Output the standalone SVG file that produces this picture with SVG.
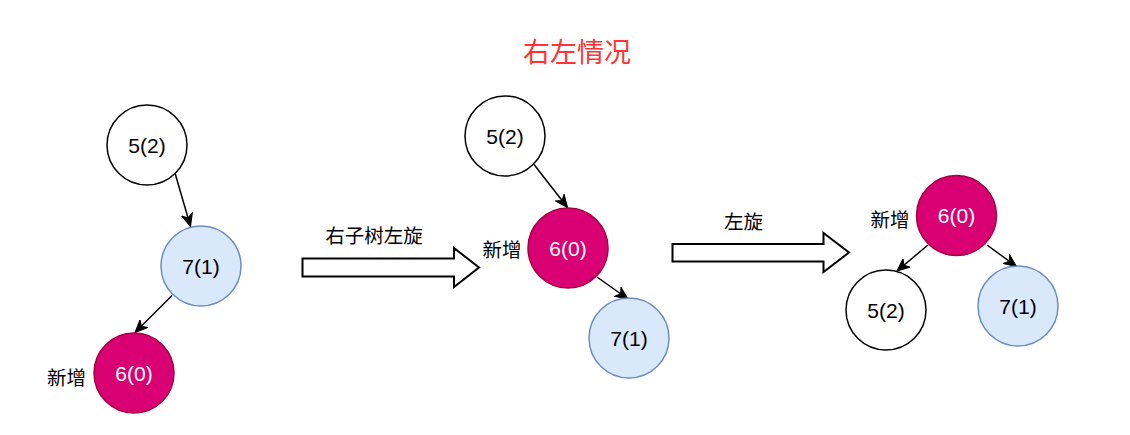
<svg xmlns="http://www.w3.org/2000/svg" width="1130" height="435" viewBox="0 0 1130 435">
<style>
.lbl{font-family:"Liberation Sans",Arial,"Noto Sans CJK SC",sans-serif;font-size:21px;text-anchor:middle;dominant-baseline:central;}
.cjk{font-family:"Noto Sans CJK SC","Liberation Sans",sans-serif;font-size:19.5px;text-anchor:middle;dominant-baseline:central;fill:#000;}
.white{fill:#ffffff;stroke:#000000;stroke-width:1.5;}
.blue{fill:#dae8fc;stroke:#6c8ebf;stroke-width:1.5;}
.pink{fill:#d80073;stroke:#a50040;stroke-width:1.5;}
.edge{stroke:#000;stroke-width:1.5;fill:none;marker-end:url(#arr);}
.block{fill:#fff;stroke:#000;stroke-width:2;}
</style>
<defs>
<marker id="arr" markerUnits="userSpaceOnUse" markerWidth="14" markerHeight="12" viewBox="0 0 14 12" refX="13" refY="6" orient="auto">
<path d="M0.5,0.5 L13,6 L0.5,11.5 L4,6 Z" fill="#000" stroke="#000" stroke-width="1"/>
</marker>
</defs>
<rect width="1130" height="435" fill="#fff"/>
<text class="cjk" x="577" y="50" style="font-size:27px;fill:#ff3333">右左情况</text>

<g id="connectors">
<line class="edge" x1="175" y1="173" x2="190.5" y2="226.5"/>
<line class="edge" x1="172" y1="295.5" x2="135" y2="332.5"/>
<line class="edge" x1="534" y1="164.5" x2="567.5" y2="207.5"/>
<line class="edge" x1="597" y1="277" x2="628" y2="299"/>
<line class="edge" x1="928" y1="245" x2="897" y2="271"/>
<line class="edge" x1="987" y1="245" x2="1016.5" y2="266.5"/>
</g>

<g id="arrow1"><path class="block" d="M302.5,258.5 H454 V248 L479,267.5 L454,287 V276.5 H302.5 Z"/></g>
<g id="arrow1-label"><text class="cjk" x="374" y="234">右子树左旋</text></g>
<g id="arrow2"><path class="block" d="M672.5,244 H823.5 V233 L849,252.5 L823.5,272 V261.5 H672.5 Z"/></g>
<g id="arrow2-label"><text class="cjk" x="743.5" y="220">左旋</text></g>

<g id="t1-n5"><circle class="white" cx="147" cy="145" r="40"/><text class="lbl" x="147" y="145">5(2)</text></g>
<g id="t1-n7"><circle class="blue" cx="201" cy="266" r="40"/><text class="lbl" x="201" y="266">7(1)</text></g>
<g id="t1-n6"><circle class="pink" cx="134" cy="373" r="40"/><text class="lbl" x="134" y="373" fill="#fff">6(0)</text></g>
<g id="t1-new"><text class="cjk" x="66.5" y="376">新增</text></g>

<g id="t2-n5"><circle class="white" cx="505" cy="136" r="40"/><text class="lbl" x="505" y="136">5(2)</text></g>
<g id="t2-n6"><circle class="pink" cx="568" cy="248" r="40"/><text class="lbl" x="568" y="248" fill="#fff">6(0)</text></g>
<g id="t2-n7"><circle class="blue" cx="629" cy="338" r="40"/><text class="lbl" x="629" y="338">7(1)</text></g>
<g id="t2-new"><text class="cjk" x="502" y="248">新增</text></g>

<g id="t3-n6"><circle class="pink" cx="956.5" cy="215.5" r="40"/><text class="lbl" x="956.5" y="215.5" fill="#fff">6(0)</text></g>
<g id="t3-n5"><circle class="white" cx="886" cy="310" r="40"/><text class="lbl" x="886" y="310">5(2)</text></g>
<g id="t3-n7"><circle class="blue" cx="1018" cy="306" r="40"/><text class="lbl" x="1018" y="306">7(1)</text></g>
<g id="t3-new"><text class="cjk" x="890" y="218">新增</text></g>
</svg>
